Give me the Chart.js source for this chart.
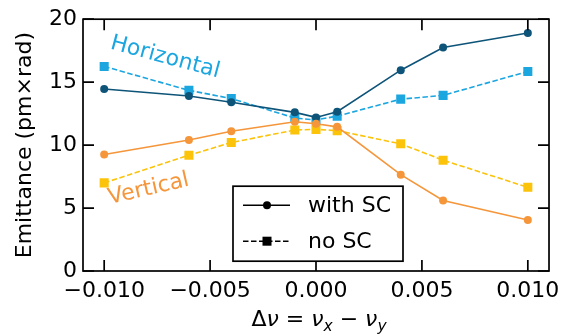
<!DOCTYPE html>
<html>
<head>
<meta charset="utf-8">
<script src="https://cdn.jsdelivr.net/npm/chart.js@4/dist/chart.umd.min.js"></script>
<style>
html, body { margin: 0; padding: 0; background: #fff; }
</style>
</head>
<body>
<canvas id="myChart" width="567" height="334"></canvas>
<script>
const tuneShift = [-0.010, -0.006, -0.004, -0.001, 0.000, 0.001, 0.004, 0.006, 0.010]
const horizWithSC = [14.45, 13.9, 13.4, 12.6, 12.2, 12.65, 15.95, 17.75, 18.9]
const horizNoSC = [16.25, 14.35, 13.7, 12.15, 12.0, 12.3, 13.65, 13.95, 15.85]
const vertWithSC = [9.25, 10.4, 11.1, 11.85, 11.7, 11.45, 7.65, 5.6, 4.05]
const vertNoSC = [7.0, 9.2, 10.2, 11.2, 11.25, 11.15, 10.1, 8.8, 6.65]
const xTicks = [-0.010, -0.005, 0.000, 0.005, 0.010]
const yTicks = [0, 5, 10, 15, 20]
const legendLabels = ['with SC', 'no SC']

const FONT = '"DejaVu Sans"'
const DARK_BLUE = '#0e5479'
const LIGHT_BLUE = '#1ba6e0'
const ORANGE = '#f5963a'
const YELLOW = '#fcc30b'

const toPoints = ys => tuneShift.map((x, i) => ({ x: x, y: ys[i] }))
const fmt = v => (v < 0 ? '\u2212' : '') + Math.abs(v).toFixed(3)

// frame, inward ticks, axis titles, annotations and the legend box
const decor = {
    id: 'decor',
    afterDraw(chart) {
        const { ctx, chartArea: a, scales: { x, y } } = chart
        ctx.save()
        ctx.strokeStyle = '#000'
        ctx.lineWidth = 1.7
        ctx.strokeRect(a.left, a.top, a.right - a.left, a.bottom - a.top)

        const tl = 11
        ctx.beginPath()
        xTicks.forEach(v => {
            const px = x.getPixelForValue(v)
            ctx.moveTo(px, a.bottom); ctx.lineTo(px, a.bottom - tl)
            ctx.moveTo(px, a.top); ctx.lineTo(px, a.top + tl)
        })
        yTicks.forEach(v => {
            const py = y.getPixelForValue(v)
            ctx.moveTo(a.left, py); ctx.lineTo(a.left + tl, py)
            ctx.moveTo(a.right, py); ctx.lineTo(a.right - tl, py)
        })
        ctx.stroke()

        // y title
        ctx.fillStyle = '#000'
        ctx.font = '22px ' + FONT
        ctx.textAlign = 'center'
        ctx.textBaseline = 'middle'
        ctx.save()
        ctx.translate(25, (a.top + a.bottom) / 2)
        ctx.rotate(-Math.PI / 2)
        ctx.fillText('Emittance (pm\u00d7rad)', 0, 0)
        ctx.restore()

        // x title with math-like pieces
        const big = '22px ' + FONT, bigI = 'italic 22px ' + FONT, sub = 'italic 15.5px ' + FONT
        const parts = [['\u0394', big, 0], ['\u03bd', bigI, 0], [' = ', big, 0], ['\u03bd', bigI, 0],
            ['x', sub, 5], [' \u2212 ', big, 0], ['\u03bd', bigI, 0], ['y', sub, 5]]
        ctx.textAlign = 'left'
        ctx.textBaseline = 'alphabetic'
        let total = 0
        parts.forEach(p => { ctx.font = p[1]; total += ctx.measureText(p[0]).width })
        let cx = (a.left + a.right) / 2 - total / 2 + 3
        parts.forEach(p => {
            ctx.font = p[1]
            ctx.fillText(p[0], cx, 326 + p[2])
            cx += ctx.measureText(p[0]).width
        })

        // series annotations
        ctx.font = '22px ' + FONT
        ctx.textAlign = 'center'
        ctx.textBaseline = 'middle'
        ctx.save()
        ctx.fillStyle = LIGHT_BLUE
        ctx.translate(x.getPixelForValue(-0.00712), y.getPixelForValue(16.95))
        ctx.rotate(15 * Math.PI / 180)
        ctx.fillText('Horizontal', 0, 0)
        ctx.restore()
        ctx.save()
        ctx.fillStyle = ORANGE
        ctx.translate(x.getPixelForValue(-0.0079), y.getPixelForValue(6.5))
        ctx.rotate(-13 * Math.PI / 180)
        ctx.fillText('Vertical', 0, 0)
        ctx.restore()

        // legend
        const lx = a.left + 150, ly = a.top + 167
        ctx.fillStyle = '#fff'
        ctx.fillRect(lx, ly, 170, 75)
        ctx.strokeStyle = '#000'
        ctx.lineWidth = 1.7
        ctx.strokeRect(lx, ly, 170, 75)
        ctx.lineWidth = 1.5
        ctx.fillStyle = '#000'
        const rows = [ly + 19, ly + 55]
        ctx.beginPath(); ctx.moveTo(lx + 10, rows[0]); ctx.lineTo(lx + 57, rows[0]); ctx.stroke()
        ctx.beginPath(); ctx.arc(lx + 34, rows[0], 4, 0, Math.PI * 2); ctx.fill()
        ctx.setLineDash([5.5, 2.5])
        ctx.beginPath(); ctx.moveTo(lx + 10, rows[1]); ctx.lineTo(lx + 57, rows[1]); ctx.stroke()
        ctx.setLineDash([])
        ctx.fillRect(lx + 29.5, rows[1] - 4.5, 9, 9)
        ctx.textAlign = 'left'
        ctx.fillText(legendLabels[0], lx + 75, rows[0] + 1)
        ctx.fillText(legendLabels[1], lx + 75, rows[1] + 1)
        ctx.restore()
    }
}

const line = (label, ys, color, dashed) => ({
    label: label,
    data: toPoints(ys),
    borderColor: color,
    backgroundColor: color,
    borderWidth: 1.6,
    borderDash: dashed ? [5.5, 2.5] : [],
    pointStyle: dashed ? 'rect' : 'circle',
    pointRadius: dashed ? 6.4 : 4,
    pointBorderWidth: 0,
    pointBackgroundColor: color,
    tension: 0
})

var ctx = document.getElementById('myChart')
var myChart = new Chart(ctx, {
    type: 'line',
    data: {
        datasets: [
            line('vertical with SC', vertWithSC, ORANGE, false),
            line('horizontal with SC', horizWithSC, DARK_BLUE, false),
            line('vertical no SC', vertNoSC, YELLOW, true),
            line('horizontal no SC', horizNoSC, LIGHT_BLUE, true)
        ]
    },
    options: {
        responsive: false,
        animation: false,
        devicePixelRatio: 1,
        layout: { padding: { top: 18, right: 15, left: 0, bottom: 0 } },
        plugins: { legend: { display: false }, tooltip: { enabled: false } },
        scales: {
            x: {
                type: 'linear',
                min: -0.011,
                max: 0.011,
                afterBuildTicks: s => { s.ticks = xTicks.map(v => ({ value: v })) },
                afterFit: s => { s.height = 63 },
                grid: { display: false, drawTicks: false },
                border: { display: false },
                ticks: {
                    padding: 7, color: '#000', maxRotation: 0, autoSkip: false,
                    font: { family: 'DejaVu Sans', size: 22 },
                    callback: v => fmt(v)
                }
            },
            y: {
                min: 0,
                max: 20,
                afterBuildTicks: s => { s.ticks = yTicks.map(v => ({ value: v })) },
                afterFit: s => { s.width = 83 },
                grid: { display: false, drawTicks: false },
                border: { display: false },
                ticks: {
                    padding: 6, color: '#000',
                    font: { family: 'DejaVu Sans', size: 22 }
                }
            }
        }
    },
    plugins: [decor]
})
</script>
</body>
</html>
